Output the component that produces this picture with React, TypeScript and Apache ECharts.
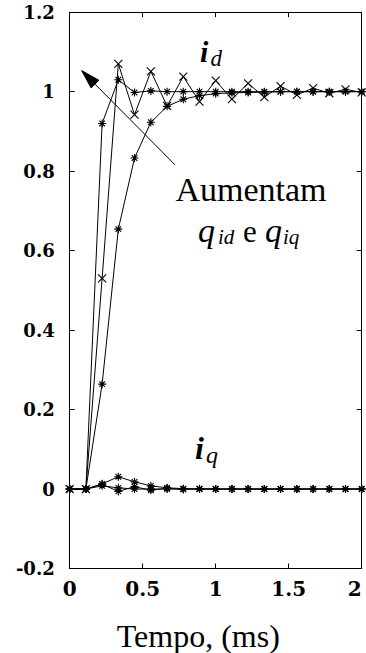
import React, { useEffect, useRef } from 'react';
import * as echarts from 'echarts';

// Sample instants (ms), sampling period about 0.111 ms
const tempo = [0, 0.111, 0.222, 0.333, 0.444, 0.556, 0.667, 0.778, 0.889, 1.0, 1.111, 1.222, 1.333, 1.444, 1.556, 1.667, 1.778, 1.889, 2.0];

// i_d responses (three gain settings)
const idOscil = [0, 0, 0.53, 1.07, 0.942, 1.051, 0.964, 1.038, 0.975, 1.028, 0.981, 1.021, 0.986, 1.014, 0.992, 1.009, 0.996, 1.006, 0.998];
const idFast = [0, 0, 0.92, 1.03, 0.998, 1.002, 1.0, 1.0, 1.0, 1.0, 1.0, 1.0, 1.0, 1.0, 1.0, 1.0, 1.0, 1.0, 1.0];
const idSlow = [0, 0, 0.264, 0.654, 0.833, 0.923, 0.963, 0.981, 0.99, 0.995, 0.997, 0.998, 0.999, 1.0, 1.0, 1.0, 1.0, 1.0, 1.0];

// i_q responses
const iqOscil = [0, 0, 0.012, -0.006, 0.006, -0.003, 0.002, -0.001, 0.001, 0, 0, 0, 0, 0, 0, 0, 0, 0, 0];
const iqFast = [0, 0, 0.008, 0.003, 0, 0, 0, 0, 0, 0, 0, 0, 0, 0, 0, 0, 0, 0, 0];
const iqSlow = [0, 0, 0.013, 0.031, 0.018, 0.008, 0.003, 0.001, 0, 0, 0, 0, 0, 0, 0, 0, 0, 0, 0];

const xMin = 0, xMax = 2, xStep = 0.5;
const yMin = -0.2, yMax = 1.2, yStep = 0.2;

// Annotation arrow in data coordinates (tail -> tip)
const arrowTail = [0.721, 0.816];
const arrowTip = [0.082, 1.053];

const X_SYMBOL = 'path://M0,0L10,10M10,0L0,10';
const STAR_SYMBOL = 'path://M5,0L5,10M0,5L10,5M1.5,1.5L8.5,8.5M8.5,1.5L1.5,8.5';

const serif = 'Liberation Serif';
const tickFont = 'DejaVu Serif';

function mkSeries(name: string, data: number[], symbol: string) {
  return {
    type: 'line',
    name,
    data: tempo.map((t, i) => [t, data[i]]),
    symbol,
    symbolSize: 8,
    showAllSymbol: true,
    silent: true,
    lineStyle: { color: '#000', width: 1 },
    itemStyle: { color: '#000', borderColor: '#000', borderWidth: 1.1 },
    emphasis: { disabled: true },
  };
}

export default function App() {
  const ref = useRef<HTMLDivElement>(null);
  useEffect(() => {
    const chart = echarts.init(ref.current!, null, { renderer: 'svg' });
    const axisLine = { show: true, onZero: false, lineStyle: { color: '#000', width: 1 } };
    const axisTick = { show: true, inside: true, length: 5, lineStyle: { color: '#000', width: 1 } };
    chart.setOption({
      animation: false,
      backgroundColor: '#fff',
      grid: { left: 69.7, right: 4.3, top: 12.2, bottom: 84.5, containLabel: false },
      xAxis: [
        {
          type: 'value', min: xMin, max: xMax, interval: xStep, position: 'bottom',
          axisLine, axisTick, splitLine: { show: false },
          axisLabel: { color: '#000', fontFamily: tickFont, fontWeight: 'bold', fontSize: 20, margin: 10, alignMaxLabel: 'right' },
        },
        {
          type: 'value', min: xMin, max: xMax, interval: xStep, position: 'top',
          axisLine, axisTick, splitLine: { show: false }, axisLabel: { show: false },
        },
      ],
      yAxis: [
        {
          type: 'value', min: yMin, max: yMax, interval: yStep, position: 'left',
          axisLine, axisTick, splitLine: { show: false },
          axisLabel: { color: '#000', fontFamily: tickFont, fontWeight: 'bold', fontSize: 18, margin: 15 },
        },
        {
          type: 'value', min: yMin, max: yMax, interval: yStep, position: 'right',
          axisLine, axisTick, splitLine: { show: false }, axisLabel: { show: false },
        },
      ],
      series: [
        mkSeries('iq lento', iqSlow, STAR_SYMBOL),
        mkSeries('iq rapido', iqFast, STAR_SYMBOL),
        mkSeries('iq oscilante', iqOscil, STAR_SYMBOL),
        mkSeries('id lento', idSlow, STAR_SYMBOL),
        mkSeries('id rapido', idFast, STAR_SYMBOL),
        mkSeries('id oscilante', idOscil, X_SYMBOL),
      ],
    });

    const tail = chart.convertToPixel({ gridIndex: 0 }, arrowTail) as number[];
    const tip = chart.convertToPixel({ gridIndex: 0 }, arrowTip) as number[];
    const dx = tail[0] - tip[0], dy = tail[1] - tip[1];
    const len = Math.sqrt(dx * dx + dy * dy);
    const ux = dx / len, uy = dy / len;
    const headLen = 19, headHalf = 5.5;
    const bx = tip[0] + ux * headLen, by = tip[1] + uy * headLen;
    const px = -uy, py = ux;

    const txt = (text: string, x: number, y: number, fontSize: number, opts: any = {}) => ({
      type: 'text', x, y, silent: true,
      style: {
        text, fill: '#000', fontFamily: serif, fontSize,
        align: opts.align || 'left', verticalAlign: 'middle',
        fontStyle: opts.italic ? 'italic' : 'normal', fontWeight: opts.bold ? 'bold' : 'normal',
      },
    });

    chart.setOption({
      graphic: [
        { type: 'line', silent: true, shape: { x1: tail[0], y1: tail[1], x2: bx, y2: by }, style: { stroke: '#000', lineWidth: 1 } },
        {
          type: 'polygon', silent: true,
          shape: { points: [[tip[0], tip[1]], [bx + px * headHalf, by + py * headHalf], [bx - px * headHalf, by - py * headHalf]] },
          style: { fill: '#000', stroke: '#000', lineWidth: 1 },
        },
        txt('Aumentam', 251, 189.2, 34, { align: 'center' }),
        txt('q', 198, 230.2, 34, { italic: true }),
        txt('id', 218, 236.5, 21, { italic: true }),
        txt('e', 243, 231.2, 31),
        txt('q', 265, 230.2, 34, { italic: true }),
        txt('iq', 283, 236.5, 21, { italic: true }),
        txt('i', 200, 51.6, 30, { italic: true, bold: true }),
        txt('d', 210.5, 58.9, 23, { italic: true }),
        txt('i', 195, 447.5, 32, { italic: true, bold: true }),
        txt('q', 206, 454.6, 24, { italic: true }),
        txt('Tempo, (ms)', 198.3, 635.9, 32, { align: 'center' }),
      ],
    });

    return () => chart.dispose();
  }, []);
  return <div ref={ref} style={{ position: 'fixed', left: 0, top: 0, width: 366, height: 653 }} />;
}
